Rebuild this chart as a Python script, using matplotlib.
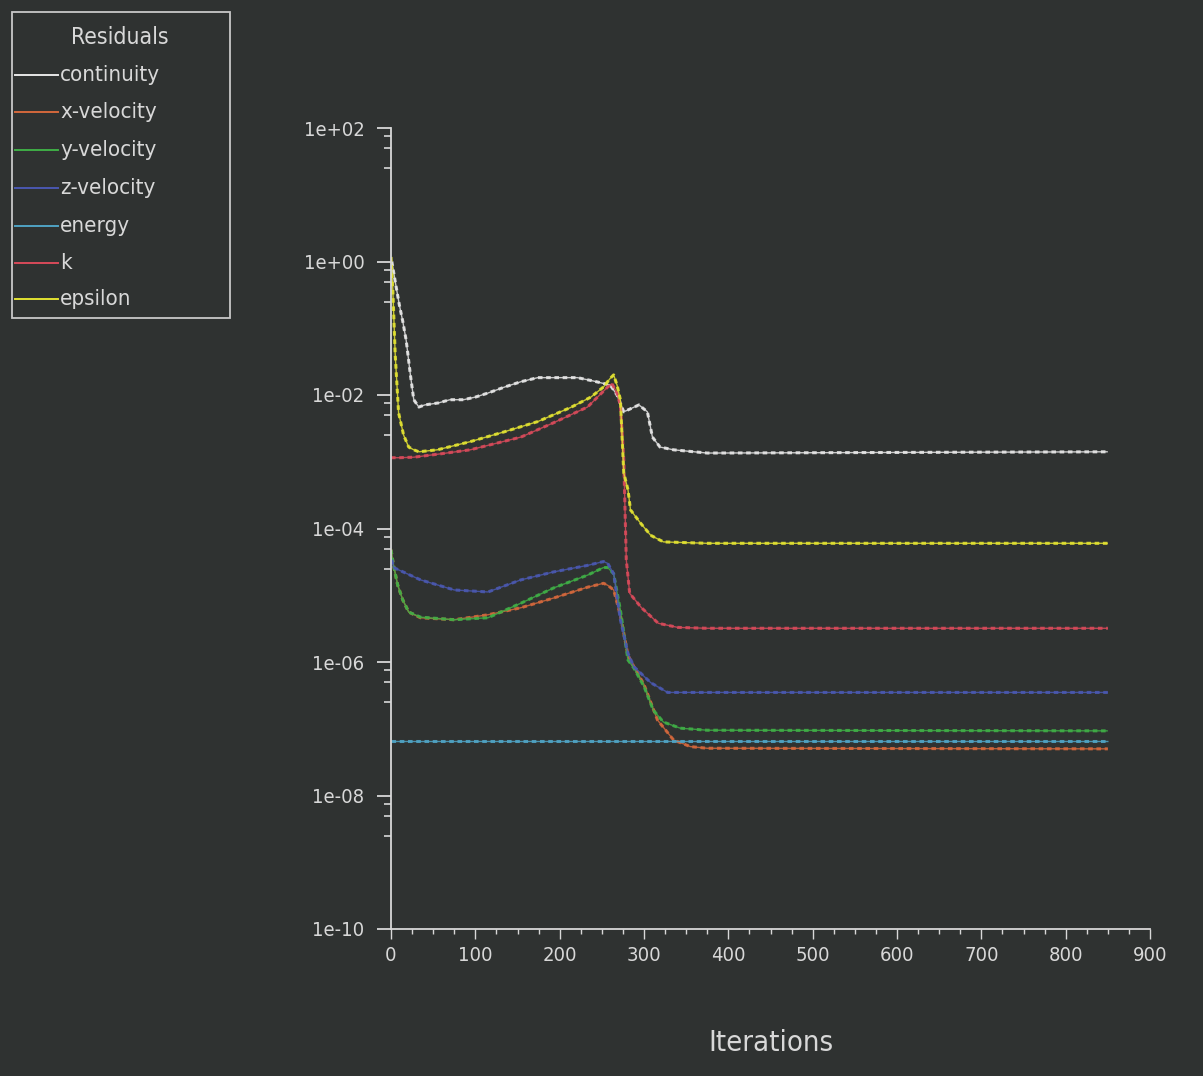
import matplotlib
matplotlib.use("Agg")
import matplotlib.pyplot as plt
from matplotlib import font_manager as fm
from matplotlib.lines import Line2D
from matplotlib.patches import Rectangle
from matplotlib.ticker import FixedLocator, FuncFormatter

# pick a narrow sans face if one is installed
narrow = [f for f in fm.fontManager.ttflist
          if ("Narrow" in f.name or "Condensed" in f.name or "condensed" in str(f.stretch))]
if narrow:
    plt.rcParams['font.family'] = [narrow[0].name, "DejaVu Sans"]
    plt.rcParams['font.stretch'] = narrow[0].stretch
else:
    plt.rcParams['font.family'] = ["DejaVu Sans"]

# ---- residual histories (iteration, residual) ----
cont_it = [1, 5, 10, 14, 18, 23, 27, 33, 40, 56, 70, 86, 100, 115, 135, 154, 174, 200, 221,
           240, 250, 260, 268, 276, 285, 294, 304, 310, 319, 335, 375, 850]
cont_val = [1.0, 0.5, 0.22, 0.126, 0.066, 0.02, 8.5e-3, 6.6e-3, 7.1e-3, 7.6e-3, 8.5e-3, 8.5e-3,
            9.3e-3, 1.07e-2, 1.32e-2, 1.58e-2, 1.82e-2, 1.82e-2, 1.82e-2, 1.62e-2, 1.51e-2,
            1.41e-2, 1.0e-2, 5.6e-3, 6.3e-3, 7.1e-3, 5.6e-3, 2.34e-3, 1.66e-3, 1.51e-3,
            1.35e-3, 1.41e-3]

xvel_it = [0, 3, 8, 14, 21, 35, 75, 115, 154, 193, 233, 252, 257, 264, 272, 281, 288, 300,
           316, 335, 355, 375, 850]
xvel_val = [4.8e-5, 2.8e-5, 1.41e-5, 8.5e-6, 5.6e-6, 4.6e-6, 4.3e-6, 5.1e-6, 6.5e-6, 9.1e-6,
            1.32e-5, 1.51e-5, 1.41e-5, 1.2e-5, 5.0e-6, 1.26e-6, 8.5e-7, 4.6e-7, 1.35e-7,
            6.8e-8, 5.4e-8, 5.1e-8, 5.0e-8]

yvel_it = [0, 3, 8, 14, 21, 35, 75, 115, 154, 193, 233, 252, 257, 264, 272, 281, 288, 300,
           311, 323, 343, 375, 850]
yvel_val = [4.8e-5, 2.8e-5, 1.41e-5, 8.5e-6, 5.6e-6, 4.7e-6, 4.3e-6, 4.6e-6, 7.6e-6, 1.29e-5,
            2.0e-5, 2.6e-5, 2.6e-5, 2.1e-5, 6.0e-6, 1.07e-6, 8.1e-7, 4.3e-7, 1.9e-7, 1.26e-7,
            1.02e-7, 9.5e-8, 9.3e-8]

zvel_it = [1, 3, 35, 75, 115, 154, 193, 233, 252, 257, 264, 272, 281, 288, 308, 328, 375, 850]
zvel_val = [3.4e-5, 2.6e-5, 1.7e-5, 1.2e-5, 1.12e-5, 1.7e-5, 2.24e-5, 2.8e-5, 3.2e-5, 3.0e-5,
            2.1e-5, 4.3e-6, 1.35e-6, 8.5e-7, 4.9e-7, 3.5e-7, 3.5e-7, 3.5e-7]

energy_it = [0, 200, 400, 600, 850]
energy_val = [6.6e-8, 6.6e-8, 6.6e-8, 6.6e-8, 6.6e-8]

k_it = [0, 10, 27, 60, 94, 154, 192, 233, 257, 262, 268, 272, 276, 279, 283, 297, 317, 340,
        375, 850]
k_val = [1.15e-3, 1.15e-3, 1.17e-3, 1.32e-3, 1.51e-3, 2.34e-3, 3.8e-3, 6.6e-3, 1.32e-2,
         1.48e-2, 1.07e-2, 7.1e-3, 1.07e-3, 3.4e-5, 1.07e-5, 6.5e-6, 3.8e-6, 3.3e-6, 3.2e-6,
         3.2e-6]

eps_it = [0, 2, 5, 9, 15, 21, 27, 33, 55, 94, 134, 174, 213, 237, 252, 260, 264, 268, 272,
          276, 281, 284, 296, 308, 323, 375, 850]
eps_val = [1.17, 0.42, 0.04, 5.4e-3, 2.5e-3, 1.66e-3, 1.51e-3, 1.41e-3, 1.51e-3, 2.0e-3,
           2.8e-3, 4.0e-3, 6.5e-3, 9.3e-3, 1.32e-2, 1.78e-2, 2.0e-2, 1.41e-2, 8.5e-3, 6.8e-4,
           3.8e-4, 1.9e-4, 1.2e-4, 7.9e-5, 6.3e-5, 6.0e-5, 6.0e-5]

names = ["continuity", "x-velocity", "y-velocity", "z-velocity", "energy", "k", "epsilon"]
colors = ["#e6e6e6", "#d4683c", "#3fae46", "#4a58b0", "#4fa3c4", "#d84a5a", "#e2e232"]
series = [(cont_it, cont_val), (xvel_it, xvel_val), (yvel_it, yvel_val), (zvel_it, zvel_val),
          (energy_it, energy_val), (k_it, k_val), (eps_it, eps_val)]

y_major = [1e2, 1e0, 1e-2, 1e-4, 1e-6, 1e-8, 1e-10]
x_major = [0, 100, 200, 300, 400, 500, 600, 700, 800, 900]

bg = "#2f3231"
fg = "#d8d8d8"

W, H = 1203, 1076
fig = plt.figure(figsize=(W / 100, H / 100), dpi=100, facecolor=bg)
ax = fig.add_axes([391 / W, 1 - 929 / H, (1150 - 391) / W, (929 - 128) / H])
ax.set_facecolor(bg)

for (it, val), c in zip(series, colors):
    ax.plot(it, val, color=c, lw=1.0, alpha=0.85, solid_capstyle="butt")
    ax.plot(it, val, color=c, lw=2.2, dashes=(1.5, 1.2), alpha=0.9)

ax.set_yscale("log")
ax.set_ylim(1e-10, 1e2)
ax.set_xlim(0, 900)

ax.yaxis.set_major_locator(FixedLocator(y_major))
ax.yaxis.set_major_formatter(FuncFormatter(lambda v, p: f"{v:.0e}"))
minor_y = [m * v for v in y_major[:-1] for m in (0.75, 0.5, 0.25)]
ax.yaxis.set_minor_locator(FixedLocator(minor_y))
ax.yaxis.set_minor_formatter(FuncFormatter(lambda v, p: ""))

ax.xaxis.set_major_locator(FixedLocator(x_major))
ax.xaxis.set_minor_locator(FixedLocator(list(range(0, 901, 25))))

for s in ("top", "right"):
    ax.spines[s].set_visible(False)
for s in ("left", "bottom"):
    ax.spines[s].set_color(fg)
    ax.spines[s].set_linewidth(1.3)

ax.tick_params(axis="y", which="major", direction="out", length=10, width=1.3,
               color=fg, labelcolor=fg, labelsize=14.5, pad=9)
ax.tick_params(axis="y", which="minor", direction="out", length=5, width=1.2, color=fg)
ax.tick_params(axis="x", which="major", direction="out", length=7, width=1.0,
               color=fg, labelcolor=fg, labelsize=14.5, pad=5)
ax.tick_params(axis="x", which="minor", direction="out", length=3.5, width=1.0, color=fg)

ax.set_xlabel("Iterations", color=fg, fontsize=21, va="center")
ax.xaxis.set_label_coords(0.5, -0.142)

# legend panel
fig.patches.append(Rectangle((12 / W, 1 - 318 / H), (230 - 12) / W, (318 - 12) / H,
                             transform=fig.transFigure, facecolor="none",
                             edgecolor="#c8c8c8", lw=1.3))
fig.text(120 / W, 1 - 38 / H, "Residuals", color=fg, fontsize=16.5, ha="center", va="center")
rows = [75, 112, 150, 188, 226, 263, 299]
for name, c, yy in zip(names, colors, rows):
    fig.lines.append(Line2D([15 / W, 58 / W], [1 - yy / H, 1 - yy / H],
                            transform=fig.transFigure, color=c, lw=1.4))
    fig.text(60 / W, 1 - yy / H, name, color=fg, fontsize=16, ha="left", va="center")

fig.savefig("out.png", dpi=100, facecolor=bg)
